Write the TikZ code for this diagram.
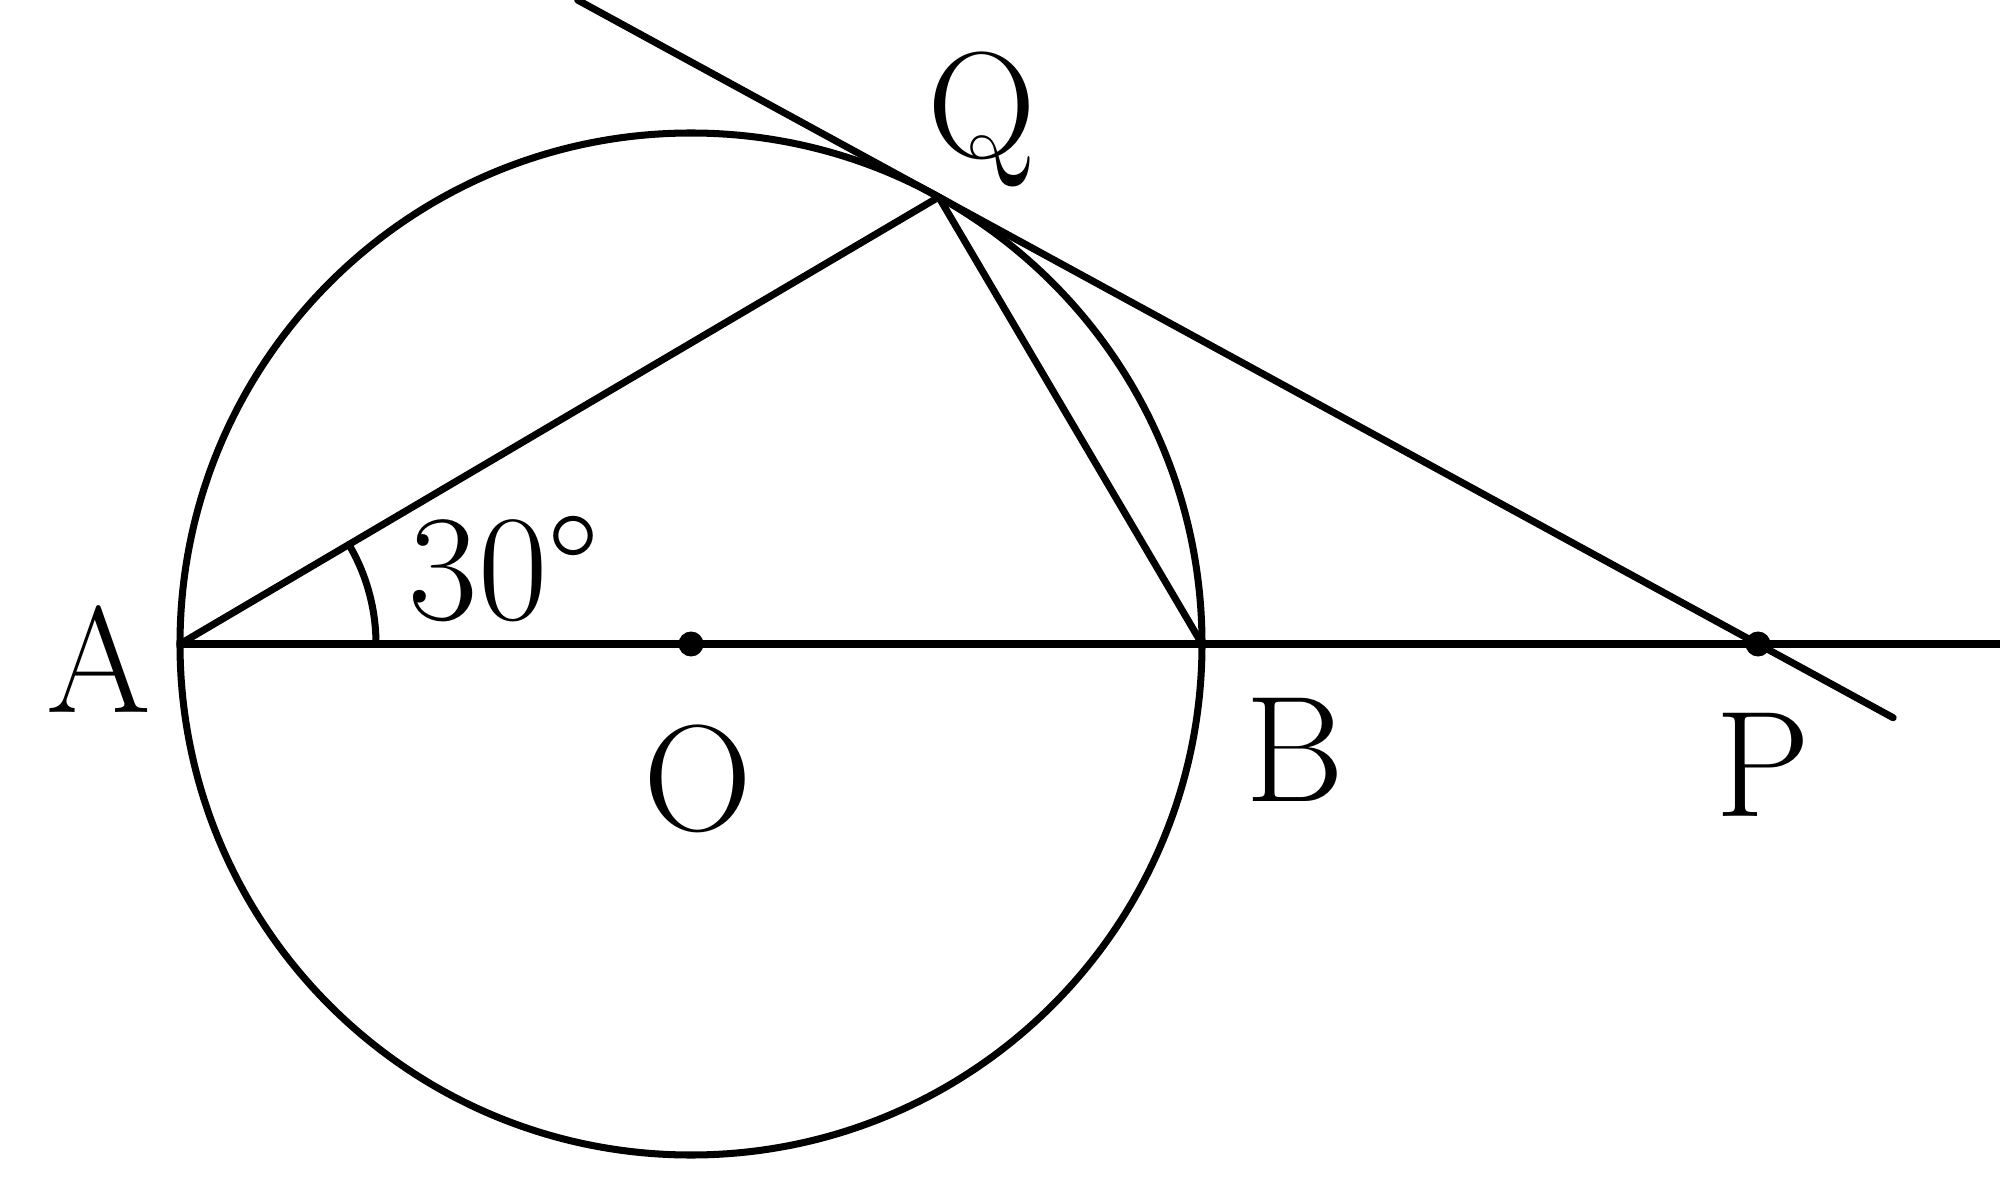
\documentclass[tikz,border=0pt]{standalone}
\usepackage{fontspec}
\setmainfont{Latin Modern Roman}
\usetikzlibrary{calc}
\begin{document}
\begin{tikzpicture}[
  geo/.style={line width=2pt, line cap=round, line join=round},
  lbl/.style={inner sep=0pt, font=\fontsize{43}{52}\selectfont},
  ptdot/.style={fill=black, circle, inner sep=0pt, minimum size=0.25cm}
]
\useasboundingbox (0,0) rectangle (20,12.03);
\coordinate (O) at (6.91,5.59);
\coordinate (A) at (1.80,5.59);
\coordinate (B) at (12.02,5.59);
\coordinate (Q) at ($(O)+(61:5.11)$);
\coordinate (P) at (17.58,5.59);
\coordinate (R) at (20,5.59);
\coordinate (T1) at ($(Q)!-0.4407!(P)$);
\coordinate (T2) at ($(Q)!1.165!(P)$);
% circle
\draw[geo] (O) circle (5.11);
% diameter and extension
\draw[geo] (A) -- (R);
% chords
\draw[geo] (A) -- (Q) -- (B);
% tangent
\draw[geo] (T1) -- (T2);
% angle arc
\draw[geo] ($(A)+(1.96,0)$) arc[start angle=0, end angle=30.5, radius=1.96];
% dots
\node[ptdot] (dotO) at (O) {};
\node[ptdot] (dotP) at (P) {};
% labels
\node[lbl] (labA) at (0.99,5.44) {A};
\node[lbl] (labO) at (6.98,4.24) {O};
\node[lbl] (labB) at (12.95,4.53) {B};
\node[lbl] (labP) at (17.63,4.38) {P};
\node[lbl, anchor=base] (labQ) at (9.82,10.45) {Q};
\node[lbl, anchor=base west] (labAng) at (4.08,5.84) {30°};
\end{tikzpicture}
\end{document}
